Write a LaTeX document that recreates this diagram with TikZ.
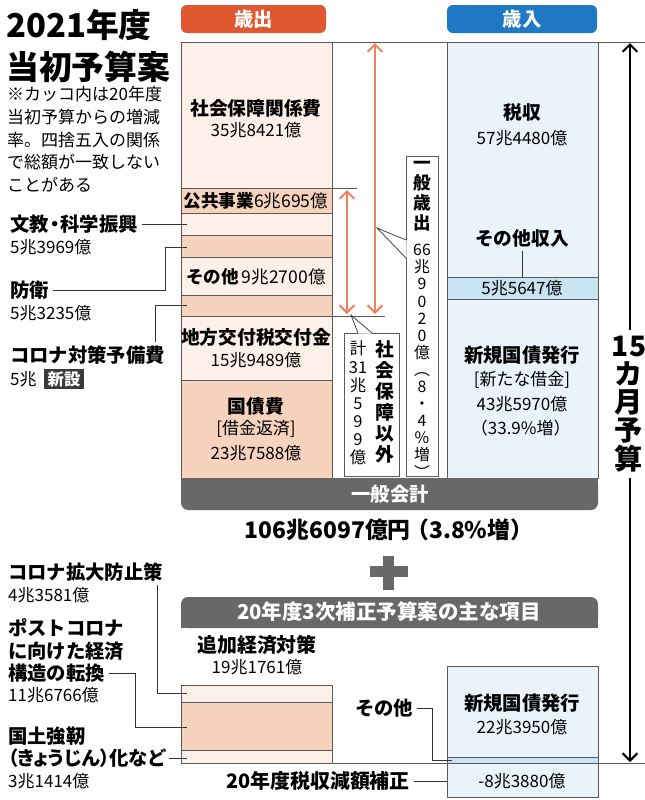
\documentclass[tikz,border=0pt]{standalone}
\usepackage{fontspec}
\setmainfont{Noto Sans CJK JP}
\usetikzlibrary{arrows.meta}

\definecolor{hdrred}{HTML}{E0582F}
\definecolor{hdrblue}{HTML}{1E78C3}
\definecolor{peach}{HTML}{FCF0E8}
\definecolor{salmon}{HTML}{F7D3BE}
\definecolor{skyl}{HTML}{EAF3FB}
\definecolor{skyd}{HTML}{C8E4F3}
\definecolor{barg}{HTML}{686868}
\definecolor{arrowor}{HTML}{EC825F}
\definecolor{edgeg}{HTML}{5A5A5A}
\definecolor{newbg}{HTML}{3A3A3A}

\newcommand{\fs}[2]{\fontsize{#1}{#2}\selectfont}

\tikzset{
  lbl/.style={font=\bfseries\fs{16}{19}, inner sep=0pt},
  num/.style={font=\fs{14.5}{18}, inner sep=0pt},
  side/.style={font=\bfseries\fs{16.5}{19}, inner sep=0pt, anchor=west},
  sidenum/.style={font=\fs{14.5}{18}, inner sep=0pt, anchor=west},
  lead/.style={draw=black!80, line width=0.6pt},
  spanarrow/.style={draw=arrowor, line width=1.8pt, {Straight Barb[length=2.2mm,width=4.4mm]}-{Straight Barb[length=2.2mm,width=4.4mm]}},
  tate/.style={inner sep=0pt, align=center, anchor=north},
}

\begin{document}
\begin{tikzpicture}[x=0.03cm,y=-0.03cm]
\useasboundingbox (0,0) rectangle (645,800);

% title
\node[anchor=west, inner sep=0, font=\bfseries\fs{28}{34}] (ttlA) at (6,25) {2021年度};
\node[anchor=west, inner sep=0, font=\bfseries\fs{28}{34}] (ttlB) at (6,67) {当初予算案};
\node[anchor=north west, inner sep=0, align=left, font=\fs{14.5}{19.4}] (note) at (7,86)
  {※カッコ内は20年度\\当初予算からの増減\\率。四捨五入の関係\\で総額が一致しない\\ことがある};

% headers
\fill[hdrred, rounded corners=5] (181,5) rectangle (326,33);
\node[font=\bfseries\fs{16.5}{19}, text=white] (hdrOut) at (253.5,19) {歳出};
\fill[hdrblue, rounded corners=5] (447,5) rectangle (597,33);
\node[font=\bfseries\fs{16.5}{19}, text=white] (hdrIn) at (522,19) {歳入};

\draw[draw=edgeg, line width=0.5pt] (181,42) -- (645,42);
\draw[draw=edgeg, line width=0.5pt] (181,763) -- (645,763);

% columns
\foreach \ya/\yb/\c in {42/188/peach,188/213/salmon,213/235/peach,235/257/salmon,257/295/peach,295/316/salmon,316/380/peach,380/478/salmon}
  \filldraw[draw=edgeg, line width=0.5pt, fill=\c] (181,\ya) rectangle (332,\yb);
\foreach \ya/\yb/\c in {42/277/skyl,277/299/skyd,299/478/skyl}
  \filldraw[draw=edgeg, line width=0.5pt, fill=\c] (447,\ya) rectangle (598,\yb);

\fill[barg, rounded corners=6] (181,478) rectangle (598,510);
\fill[barg] (181,478) rectangle (598,492);
\node[font=\bfseries\fs{16.5}{19}, text=white] (ippankaikei) at (390,494) {一般会計};

% left column texts
\node[lbl] (shaho) at (256,108) {社会保障関係費};
\node[num] (shahoN) at (256,130) {35兆8421億};
\node[inner sep=0, font=\fs{15}{18}] (kokyo) at (256,201) {{\bfseries 公共事業}6兆695億};
\node[inner sep=0, font=\fs{15}{18}] (sonotaL) at (256,277) {{\bfseries その他}\,9兆2700億};
\node[lbl] (chiho) at (256,337) {地方交付税交付金};
\node[num] (chihoN) at (256,360) {15兆9489億};
\node[lbl] (kokusai) at (256,406) {国債費};
\node[num] (kokusaiA) at (256,429) {[借金返済]};
\node[num] (kokusaiN) at (256,453) {23兆7588億};

% right column texts
\node[lbl] (zeishu) at (522,112) {税収};
\node[num] (zeishuN) at (522,138) {57兆4480億};
\node[lbl] (sonotaIn) at (522,238) {その他収入};
\node[num] (sonotaInN) at (522,288) {5兆5647億};
\node[lbl, font=\bfseries\fs{16.5}{19}] (shinki) at (522,355) {新規国債発行};
\node[num] (shinkiA) at (522,380) {[新たな借金]};
\node[num] (shinkiN) at (522,404) {43兆5970億};
\node[num] (shinkiP) at (522,428) {{\kern-0.15em}（33.9\%増）};
\coordinate (inSonotaIn) at (522,277);
\draw[lead, shorten <=3pt] (sonotaIn.south) -- (inSonotaIn);

% arrows between the columns
\draw[draw=edgeg, line width=0.5pt] (332,188) -- (357,188);
\draw[draw=edgeg, line width=0.5pt] (332,316) -- (385,316);
\draw[spanarrow] (375,43) -- (375,314);
\draw[spanarrow] (347,190) -- (347,314);

% callouts
\filldraw[draw=edgeg, line width=0.6pt, fill=white] (406,156) rectangle (438,476);
\fill[white] (406.6,240) -- (377,228) -- (406.6,258) -- cycle;
\draw[lead] (406,240) -- (377,228) -- (406,258);
\node[tate, font=\bfseries\fs{15}{17}] (ippanA) at (422,161) {一\\般\\歳\\出};
\node[tate, font=\fs{13.5}{14.6}] (ippanB) at (422,244) {66\\兆\\9\\0\\2\\0\\億\\︵\\8\\・\\4\\\%\\増\\︶};

\filldraw[draw=edgeg, line width=0.6pt, fill=white] (344,333) rectangle (399,476);
\fill[white] (358,333.6) -- (351,315) -- (372,333.6) -- cycle;
\draw[lead] (358,333) -- (351,315) -- (372,333);
\node[tate, font=\bfseries\fs{16}{18}] (igai) at (385,340) {社\\会\\保\\障\\以\\外};
\node[tate, font=\fs{14}{15.4}] (igaiN) at (358,341) {計\\31\\兆\\5\\9\\9\\億};

% 15 month
\draw[draw=black, line width=1.8pt, {Straight Barb[length=2.2mm,width=4.4mm]}-{Straight Barb[length=2.2mm,width=4.4mm]}] (630,43) -- (630,762);
\node[fill=white, inner xsep=1pt, inner ysep=5pt, align=center, font=\bfseries\fs{24}{24}] (jugo) at (629,404) {15\\カ\\月\\予\\算};

% left side labels
\node[side] (bunkyo) at (10,224) {文教{\kern-0.2em}・{\kern-0.2em}科学振興};
\node[sidenum] (bunkyoN) at (10,247) {5兆3969億};
\node[side] (bouei) at (10,290) {防衛};
\node[sidenum] (boueiN) at (10,313) {5兆3235億};
\node[side] (yobihi) at (10,355) {コロナ対策予備費};
\node[sidenum] (yobihiN) at (10,379) {5兆};
\node[fill=newbg, text=white, font=\bfseries\fs{14}{16}, inner xsep=3pt, inner ysep=2pt] (shinsetsu) at (64,379) {新設};

\coordinate (inBunkyo) at (187,224);
\coordinate (kBouei) at (165,247);
\coordinate (inBouei) at (187,247);
\coordinate (kYobi) at (155,0);
\coordinate (inYobi) at (187,305);
\draw[lead, shorten <=3pt] (bunkyo.east) -- (inBunkyo);
\draw[lead, shorten <=3pt] (bouei.east) -| (kBouei) -- (inBouei);
\draw[lead, shorten <=3pt] (yobihi.north -| kYobi) |- (inYobi);

% total
\node[inner sep=0, font=\bfseries\fs{19.5}{22}] (total) at (389,530) {106兆6097億円{\kern-0.2em}（3.8\%増）};
\fill[barg] (370,566) rectangle (408,577);
\fill[barg] (383,556) rectangle (394,590);

% supplementary budget
\fill[barg, rounded corners=6] (181,597) rectangle (598,628);
\fill[barg] (181,612) rectangle (598,628);
\node[font=\bfseries\fs{17.5}{19}, text=white] (hosei) at (389,612) {20年度3次補正予算案の主な項目};

\node[lbl, font=\bfseries\fs{17}{19}] (tsuika) at (257,645) {追加経済対策};
\node[num] (tsuikaN) at (257,667) {19兆1761億};
\foreach \ya/\yb/\c in {685/702/peach,702/750/salmon,750/763/peach}
  \filldraw[draw=edgeg, line width=0.5pt, fill=\c] (181,\ya) rectangle (332,\yb);
\foreach \ya/\yb/\c in {666/757/skyl,757/763/skyd,763/797/skyl}
  \filldraw[draw=edgeg, line width=0.5pt, fill=\c] (447,\ya) rectangle (598,\yb);

\node[lbl, font=\bfseries\fs{16.5}{19}] (shinkiB) at (522,703) {新規国債発行};
\node[num] (shinkiBN) at (522,727) {22兆3950億};
\node[num] (genzeiN) at (522,781) {-8兆3880億};
\node[lbl, font=\bfseries\fs{16.5}{19}] (sonotaB) at (384,708) {その他};
\node[lbl, font=\bfseries\fs{17}{19}] (genzei) at (318,781) {20年度税収減額補正};
\coordinate (kSonota) at (432,760);
\coordinate (inSonota) at (452,760);
\coordinate (inGenzei) at (447,781);
\draw[lead, shorten <=3pt] (sonotaB.east) -| (kSonota) -- (inSonota);
\draw[lead, shorten <=3pt] (genzei.east) -- (inGenzei);

% lower left labels
\node[side] (boushi) at (8,572) {コロナ拡大防止策};
\node[sidenum] (boushiN) at (8,595) {4兆3581億};
\node[side] (postA) at (8,628) {ポストコロナ};
\node[side] (postB) at (8,651) {に向けた経済};
\node[side] (tenkan) at (8,673) {構造の転換};
\node[sidenum] (tenkanN) at (8,695) {11兆6766億};
\node[side] (kokudoA) at (8,736) {国土強靭};
\node[side] (kokudoB) at (8,758) {\addfontfeatures{RawFeature=+palt}（きょうじん）化など};
\node[sidenum] (kokudoN) at (8,781) {3兆1414億};

\coordinate (kBoushi) at (157,0);
\coordinate (inBoushi) at (187,693);
\coordinate (kTenkan) at (135,727);
\coordinate (inTenkan) at (187,727);
\coordinate (inKokudo) at (187,758);
\draw[lead, shorten <=3pt] (boushi.south -| kBoushi) |- (inBoushi);
\draw[lead, shorten <=3pt] (tenkan.east) -| (kTenkan) -- (inTenkan);
\draw[lead, shorten <=3pt] (kokudoB.east) -- (inKokudo);
\end{tikzpicture}
\end{document}
